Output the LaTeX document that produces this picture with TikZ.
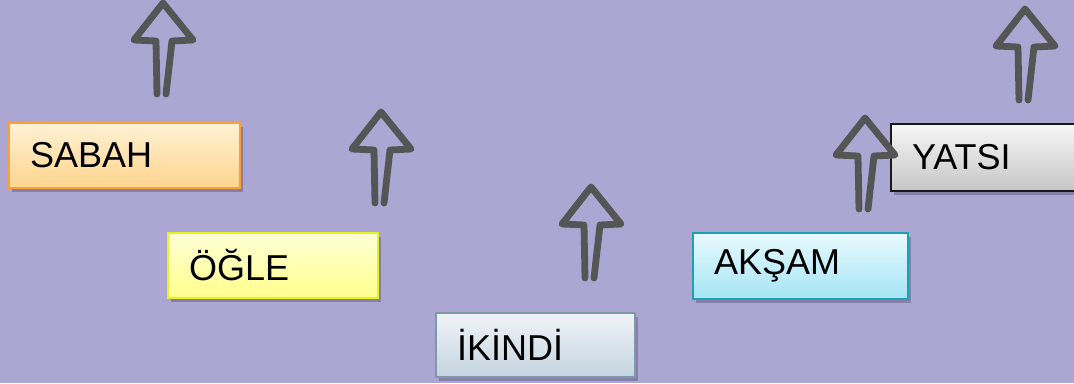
\documentclass[tikz,border=0pt]{standalone}
\usepackage{fontspec}
\setmainfont{Liberation Sans}
\usetikzlibrary{shadows}
\definecolor{bgc}{HTML}{ACA6D2}
\definecolor{arrowc}{HTML}{555555}
\definecolor{shadowc}{HTML}{655F88}
\begin{document}
\begin{tikzpicture}[x=1pt,y=-1pt,
  box/.style={draw, line width=2pt, rectangle, anchor=north west, inner xsep=21pt, inner ysep=0pt,
    align=left, font=\fontsize{36}{40}\selectfont, text=black,
    drop shadow={shadow xshift=3pt, shadow yshift=-4pt, opacity=0.55, fill=shadowc}},
  uparrow/.pic={\draw[arrowc, line width=6.8pt, line cap=round, line join=round]
     (-6,91) -- (-7,38) -- (-29,37) -- (0,0) -- (30,37) -- (9,38) -- (3,91);}
]
\clip (0,0) rectangle (1074,383);
\fill[bgc] (0,0) rectangle (1074,383);
\node[box, draw={rgb,255:red,247;green,160;blue,60}, top color={rgb,255:red,255;green,241;blue,212}, bottom color={rgb,255:red,255;green,212;blue,140},
  minimum width=231pt, minimum height=65pt, text width=189pt] (sabah) at (8,122) {SABAH};
\node[box, draw={rgb,255:red,228;green,240;blue,40}, top color={rgb,255:red,255;green,255;blue,214}, bottom color={rgb,255:red,255;green,255;blue,140},
  minimum width=210pt, minimum height=65pt, text width=168pt] (ogle) at (167,232) {ÖĞLE};
\node[box, draw={rgb,255:red,126;green,154;blue,168}, top color={rgb,255:red,240;green,244;blue,248}, bottom color={rgb,255:red,196;green,212;blue,224},
  minimum width=199pt, minimum height=64pt, text width=157pt] (ikindi) at (435,312) {İKİNDİ};
\node[box, draw={rgb,255:red,30;green,160;blue,176}, top color={rgb,255:red,232;green,250;blue,254}, bottom color={rgb,255:red,164;green,228;blue,244},
  minimum width=215pt, minimum height=66pt, text width=173pt] (aksam) at (692,232) {AKŞAM};
\node[box, draw={rgb,255:red,25;green,25;blue,25}, top color={rgb,255:red,246;green,246;blue,246}, bottom color={rgb,255:red,198;green,198;blue,198},
  minimum width=200pt, minimum height=67pt, text width=158pt] (yatsi) at (890,123) {YATSI};
\pic (a1) at (163,3) {uparrow};
\pic (a2) at (381,112) {uparrow};
\pic (a3) at (591,187) {uparrow};
\pic (a4) at (865,118) {uparrow};
\pic (a5) at (1025,9) {uparrow};
\end{tikzpicture}
\end{document}
